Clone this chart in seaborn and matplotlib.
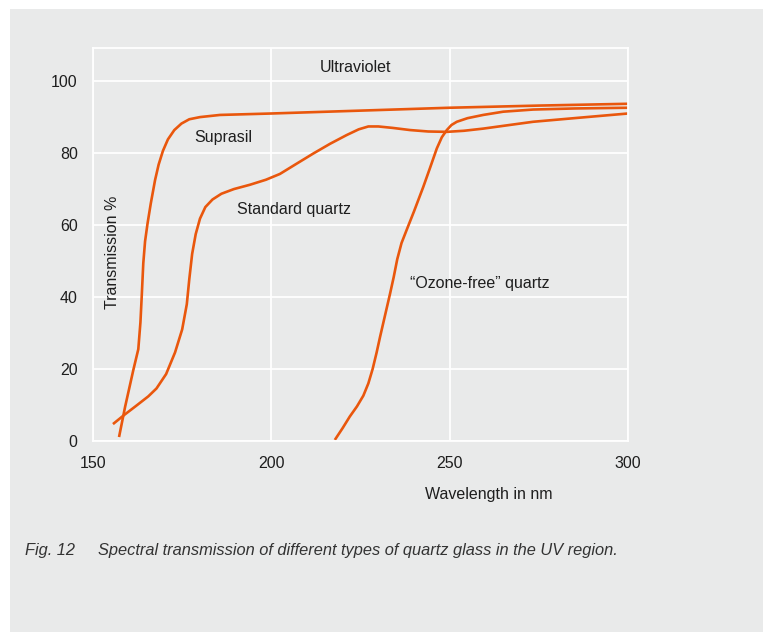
import pandas as pd
import matplotlib.pyplot as plt
import seaborn as sns
from matplotlib.patches import Rectangle

# Curve data (wavelength nm, transmission %)
suprasil_x = [157.3, 159.0, 161.3, 162.7, 163.3, 163.7, 164.1, 164.6, 165.3, 166.2,
              167.4, 168.4, 169.6, 171.0, 172.8, 174.8, 177.0, 180.0, 185.6, 200.0,
              225.0, 250.0, 275.0, 300.0]
suprasil_y = [1.1, 9.5, 19.7, 25.5, 33.0, 41.0, 49.4, 55.5, 60.5, 66.0,
              72.5, 76.8, 80.6, 83.8, 86.4, 88.2, 89.4, 90.0, 90.6, 91.0,
              91.8, 92.6, 93.2, 93.7]

standard_x = [155.6, 158.7, 162.0, 165.5, 167.8, 170.5, 173.0, 175.0, 176.3, 177.0,
              177.8, 178.8, 180.0, 181.5, 183.5, 186.0, 189.5, 194.0, 198.5, 202.4,
              207.0, 211.8, 216.5, 221.1, 224.5, 227.2, 230.0, 234.0, 238.9, 244.0,
              249.2, 254.0, 259.4, 266.0, 273.4, 286.0, 300.0]
standard_y = [4.7, 7.2, 9.7, 12.4, 14.6, 18.6, 24.6, 31.0, 38.0, 45.0,
              52.0, 57.5, 61.8, 65.0, 67.1, 68.7, 70.0, 71.2, 72.6, 74.2,
              77.0, 79.9, 82.6, 85.0, 86.6, 87.4, 87.4, 87.0, 86.4, 86.0,
              85.9, 86.2, 86.8, 87.7, 88.7, 89.8, 91.0]

ozone_x = [217.8, 220.0, 222.0, 224.0, 225.8, 227.2, 228.4, 229.5, 230.5, 231.9,
           233.3, 234.3, 235.3, 236.5, 238.0, 240.0, 242.6, 244.5, 246.4, 247.8,
           249.2, 250.5, 252.0, 255.0, 259.4, 265.0, 273.4, 285.0, 300.0]
ozone_y = [0.3, 3.6, 6.8, 9.6, 12.6, 16.0, 20.0, 24.5, 29.0, 35.0,
           41.0, 45.5, 50.5, 55.0, 58.8, 63.8, 70.6, 75.9, 81.3, 84.4,
           86.4, 87.8, 88.7, 89.7, 90.6, 91.5, 92.1, 92.4, 92.6]

x_ticks = [150, 200, 250, 300]
y_ticks = [0, 20, 40, 60, 80, 100]

frames = []
for name, xs, ys in [("Suprasil", suprasil_x, suprasil_y),
                     ("Standard quartz", standard_x, standard_y),
                     ("Ozone-free quartz", ozone_x, ozone_y)]:
    frames.append(pd.DataFrame({"wavelength": xs, "transmission": ys, "glass": name}))
df = pd.concat(frames, ignore_index=True)

bg = "#e9eaea"
line_color = "#e9570d"
text_color = "#1e1e1e"
fs = 11.5

sns.set_style("whitegrid", {"axes.facecolor": bg, "grid.color": "white",
                            "axes.edgecolor": "white"})
plt.rcParams['font.family'] = ['Liberation Sans', 'DejaVu Sans']

fig = plt.figure(figsize=(7.63, 6.32), dpi=100, facecolor="white")
fig.patches.append(Rectangle((10 / 763, 0), 1, 1 - 9 / 632, transform=fig.transFigure,
                             facecolor=bg, edgecolor="none", zorder=-10))
ax = fig.add_axes([93 / 763, 1 - 441 / 632, 535 / 763, 393 / 632])

sns.lineplot(data=df, x="wavelength", y="transmission", hue="glass",
             palette=[line_color] * 3, sort=False, estimator=None,
             linewidth=1.9, legend=False, ax=ax)
for ln in ax.lines:
    ln.set_solid_joinstyle("round")
    ln.set_solid_capstyle("butt")

ax.set_xlim(150, 300)
ax.set_ylim(0, 109.2)
ax.set_xticks(x_ticks)
ax.set_yticks(y_ticks)
ax.grid(True, color="white", linewidth=1.3)
for s in ax.spines.values():
    s.set_color("white")
    s.set_linewidth(1.3)
ax.tick_params(length=0, labelsize=fs, labelcolor=text_color, pad=11)
ax.set_xlabel("")
ax.set_ylabel("")

ax.text(223.5, 103.9, "Ultraviolet", ha="center", va="center", fontsize=fs, color=text_color)
ax.text(186.4, 84.4, "Suprasil", ha="center", va="center", fontsize=fs, color=text_color)
ax.text(206.3, 64.4, "Standard quartz", ha="center", va="center", fontsize=fs, color=text_color)
ax.text(258.5, 43.9, "\u201cOzone-free\u201d quartz", ha="center", va="center",
        fontsize=fs, color=text_color)
ax.text(155.5, 52.5, "Transmission %", ha="center", va="center", rotation=90,
        fontsize=fs, color=text_color)

fig.text(489 / 763, 1 - 495 / 632, "Wavelength in nm", ha="center", va="center",
         fontsize=fs, color=text_color)
fig.text(25 / 763, 1 - 551 / 632, "Fig. 12", ha="left", va="center",
         fontsize=11.8, style="italic", color="#333333")
fig.text(98 / 763, 1 - 551 / 632,
         "Spectral transmission of different types of quartz glass in the UV region.",
         ha="left", va="center", fontsize=11.8, style="italic", color="#333333")

plt.savefig("out.png", dpi=100, facecolor=fig.get_facecolor())
